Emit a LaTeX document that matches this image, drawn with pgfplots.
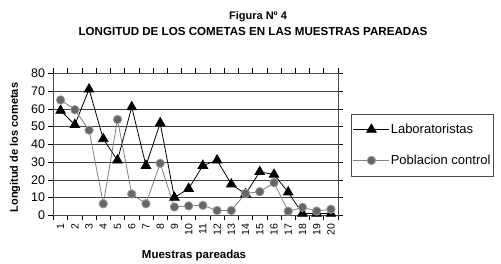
\documentclass[border=0pt]{standalone}
\usepackage{fontspec}
\setmainfont{Liberation Sans}
\usepackage{pgfplots}
\pgfplotsset{compat=1.18}
\begin{document}
\begin{tikzpicture}[x=1pt,y=1pt]
\path[use as bounding box] (0,0) rectangle (501,263);
\node[font=\bfseries\fontsize{11}{13}\selectfont,anchor=base] at (258,243.5) {Figura Nº 4};
\node[font=\bfseries\fontsize{11.6}{13}\selectfont,anchor=base] at (253,227) {LONGITUD DE LOS COMETAS EN LAS MUESTRAS PAREADAS};
\begin{axis}[
  at={(53.5pt,47.7pt)}, anchor=south west,
  scale only axis, width=284.5pt, height=142pt,
  xmin=0.5, xmax=20.5, ymin=0, ymax=80,
  xtick={1,...,20}, minor xtick={0.5,1.5,...,20.5},
  ytick={0,10,...,80},
  tick align=outside,
  major x tick style={draw=none},
  minor tick length=5pt, major tick length=5pt,
  tick style={black, line width=0.6pt},
  ymajorgrids, grid style={black!75, line width=0.6pt},
  axis line style={black!70, line width=0.6pt},
  xticklabel style={rotate=90, anchor=east, font=\fontsize{10.5}{12}\selectfont},
  yticklabel style={font=\fontsize{12.5}{14}\selectfont},
  /pgf/number format/assume math mode=true,
  xlabel={Muestras pareadas},
  ylabel={Longitud de los cometas},
  xlabel style={at={(axis description cs:0.494,-0.3077)}, anchor=base, font=\bfseries\fontsize{11.5}{13}\selectfont},
  ylabel style={at={(axis description cs:-0.135,0.477)}, anchor=center, font=\bfseries\fontsize{11}{13}\selectfont},
  legend style={at={(1.0447,0.495)}, anchor=west, draw=black!70, line width=0.6pt,
    inner xsep=2pt, inner ysep=8pt, row sep=16pt,
    font=\fontsize{13}{15}\selectfont, nodes={inner xsep=1pt}},
  legend cell align=left,
  legend image code/.code={\draw[mark repeat=2,mark phase=2] plot coordinates {(0pt,0pt) (18pt,0pt) (36pt,0pt)};},
]
\addplot[black, line width=0.8pt, mark=triangle*, mark size=5.5pt, mark options={solid, fill=black}]
coordinates {(1,59) (2,51) (3,71) (4,43) (5,31) (6,61) (7,28) (8,52) (9,10) (10,15)
(11,28) (12,31) (13,17.5) (14,12) (15,24.5) (16,23) (17,13) (18,1) (19,1) (20,1)};
\addlegendentry{Laboratoristas}
\addplot[black!50, line width=0.8pt, mark=*, mark size=4.2pt, mark options={solid, fill=black!60, draw=black!40}]
coordinates {(1,65) (2,59.5) (3,48) (4,6.5) (5,54) (6,12) (7,6.5) (8,29.3) (9,4.7) (10,5.3)
(11,5.6) (12,2.7) (13,2.7) (14,12.4) (15,13.3) (16,18.4) (17,2.3) (18,4.5) (19,2.4) (20,3.4)};
\addlegendentry{Poblacion control}
\end{axis}
\end{tikzpicture}
\end{document}
